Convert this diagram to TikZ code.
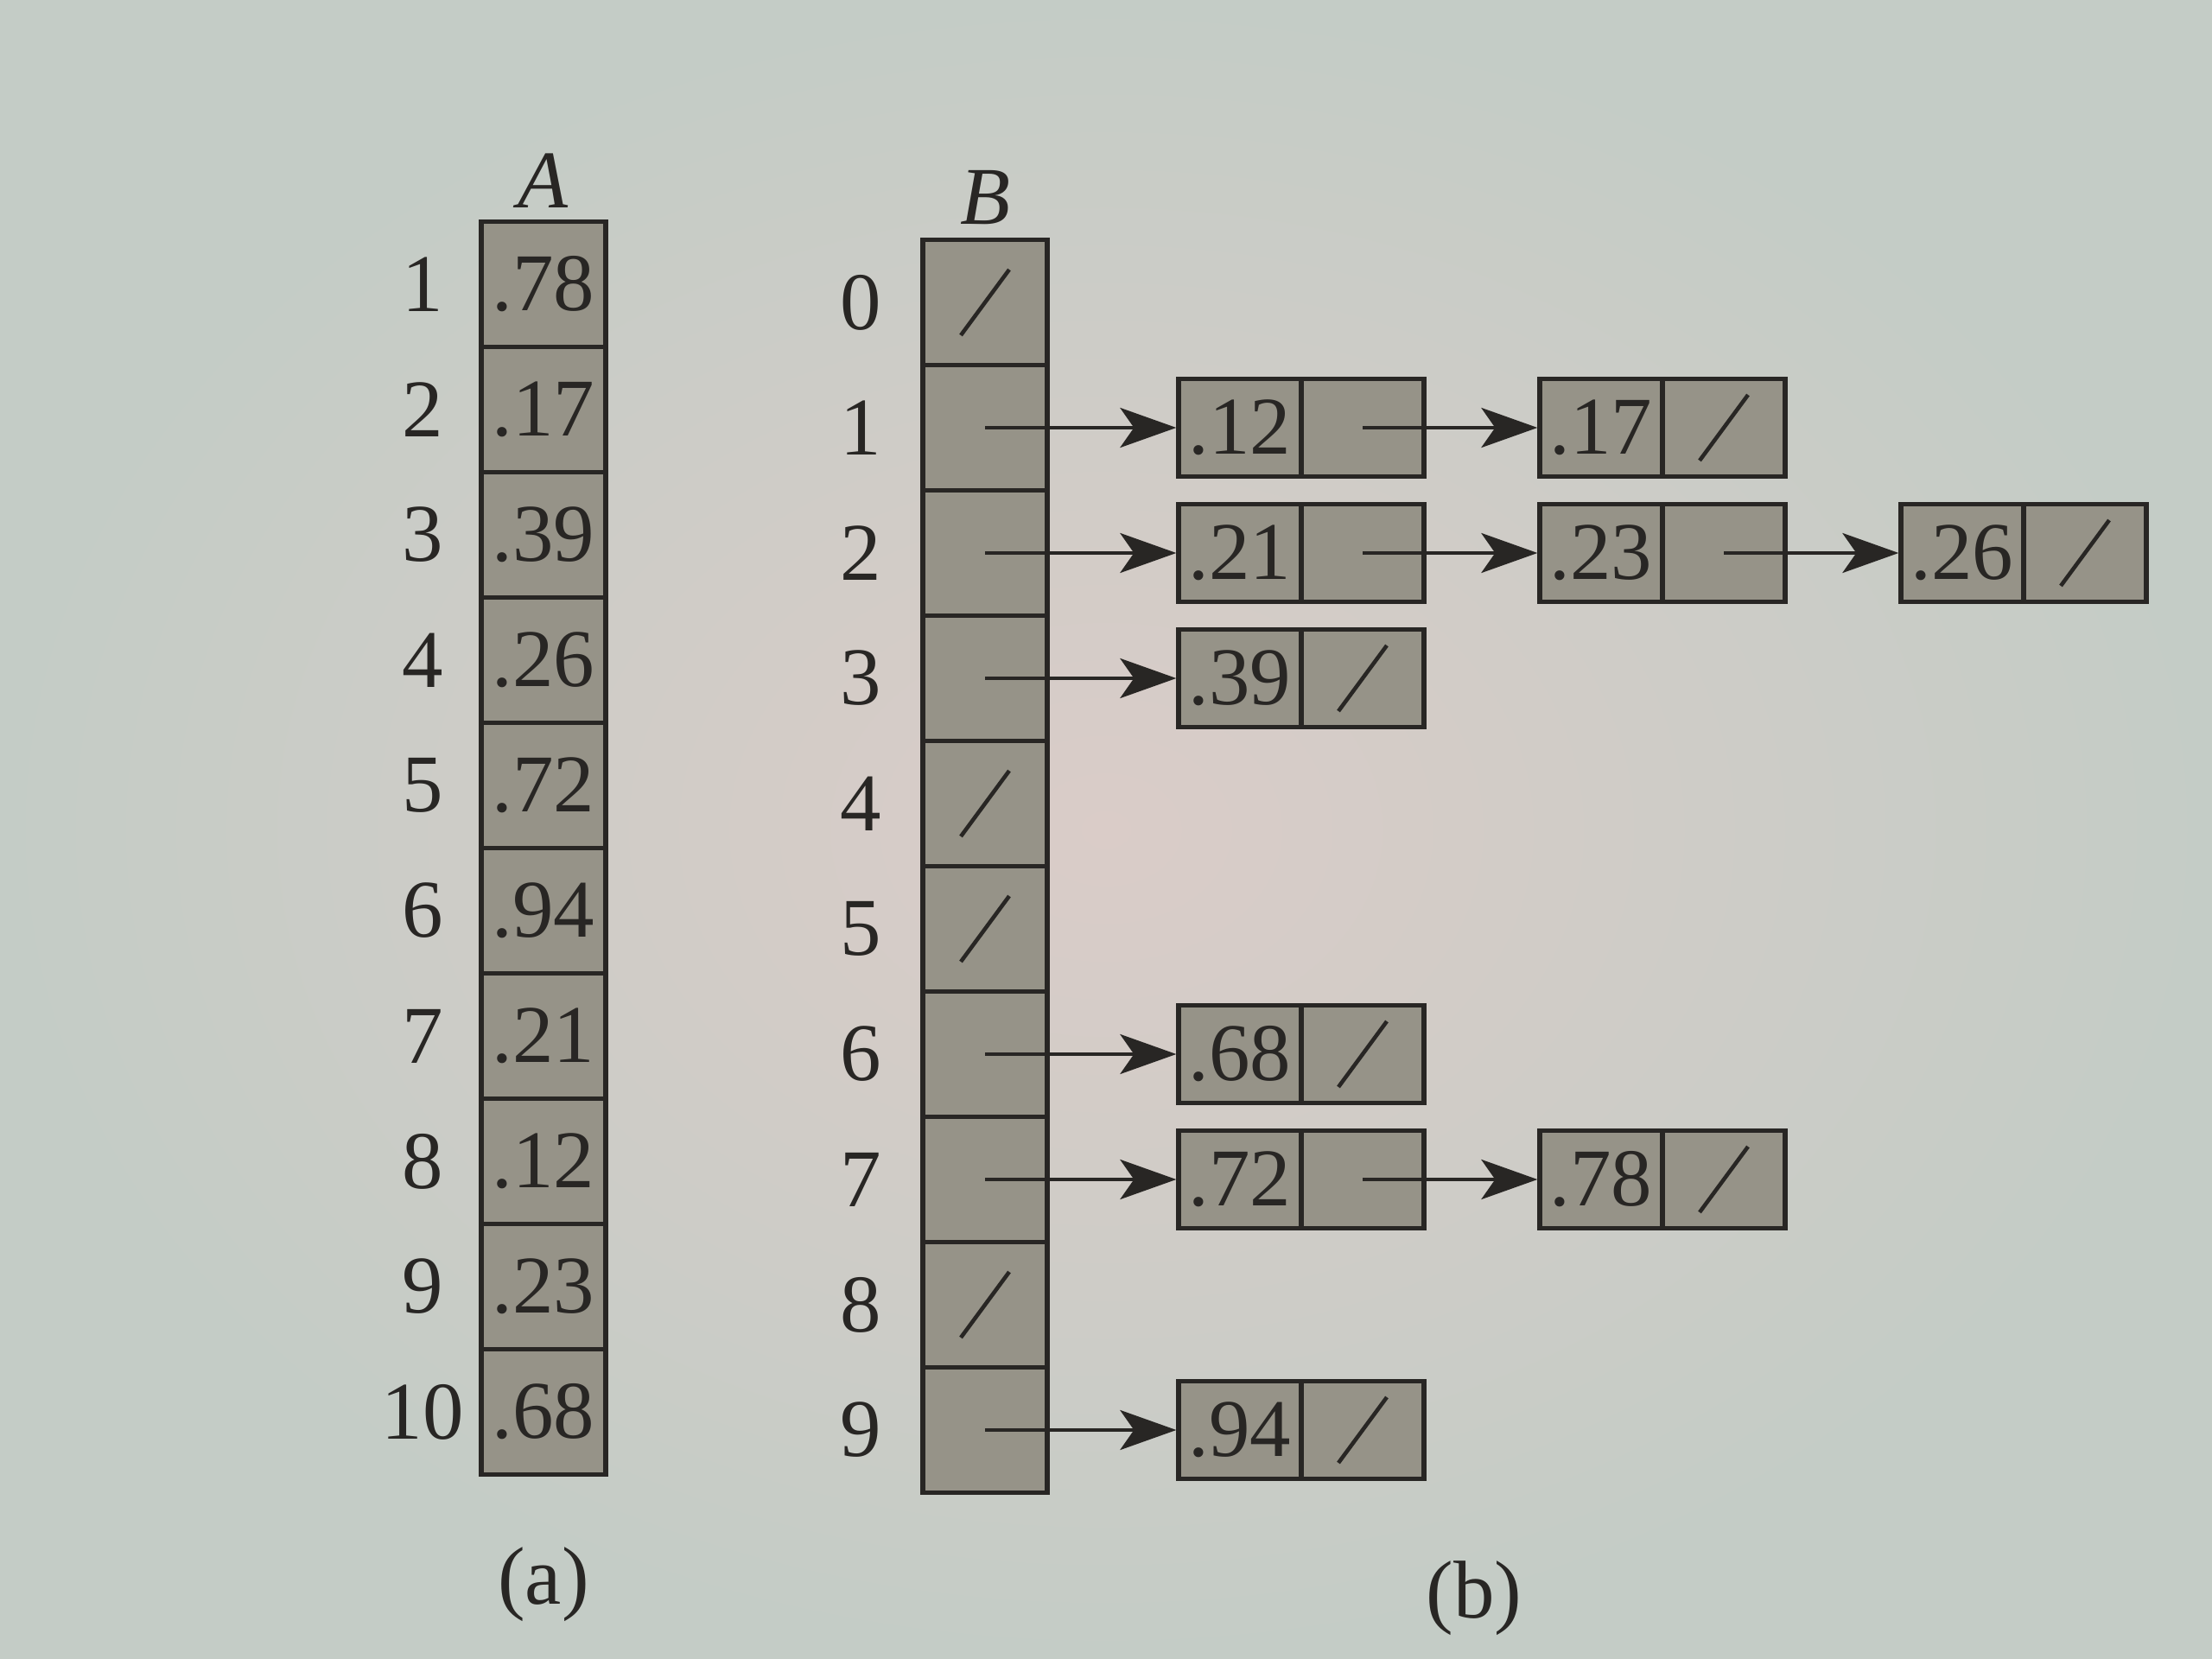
\documentclass[tikz,border=0pt]{standalone}
\usepackage{fontspec}
\setmainfont{Liberation Serif}
\usetikzlibrary{positioning, arrows.meta}

\definecolor{paperin}{RGB}{218,204,200}
\definecolor{paperout}{RGB}{196,204,198}
\definecolor{cellfill}{RGB}{150,147,136}
\definecolor{ink}{RGB}{40,38,36}

\tikzset{
  cell/.style={draw=ink, line width=1.5pt, fill=cellfill, minimum width=1.44cm, minimum height=1.45cm, inner sep=0pt, text=ink},
  key/.style={cell, minimum width=1.42cm, minimum height=1.13cm},
  nil/.style={path picture={\draw[ink, line width=1.3pt] ([shift={(-0.28,-0.38)}]path picture bounding box.center) -- ([shift={(0.28,0.38)}]path picture bounding box.center);}},
  ptr/.style={-{Stealth[length=6.5mm, width=4.6mm, inset=1.6mm]}, draw=ink, line width=1.2pt},
  idx/.style={text=ink}
}

\begin{document}
\begin{tikzpicture}[node distance=1.45cm, on grid, font=\fontsize{27}{27}\selectfont]
  % paper
  \fill[inner color=paperin, outer color=paperout] (0,0) rectangle (25.6,-19.2);

  % (a) input array A
  \node[cell] (a1) at (6.29,-3.29) {.78};
  \node[cell] (a2) [below=of a1] {.17};
  \node[cell] (a3) [below=of a2] {.39};
  \node[cell] (a4) [below=of a3] {.26};
  \node[cell] (a5) [below=of a4] {.72};
  \node[cell] (a6) [below=of a5] {.94};
  \node[cell] (a7) [below=of a6] {.21};
  \node[cell] (a8) [below=of a7] {.12};
  \node[cell] (a9) [below=of a8] {.23};
  \node[cell] (a10) [below=of a9] {.68};
  \node[idx] (A) [above=1.2cm of a1] {\textit{A}};
  \node[idx] (ia1) [left=1.4cm of a1] {1};
  \node[idx] (ia2) [left=1.4cm of a2] {2};
  \node[idx] (ia3) [left=1.4cm of a3] {3};
  \node[idx] (ia4) [left=1.4cm of a4] {4};
  \node[idx] (ia5) [left=1.4cm of a5] {5};
  \node[idx] (ia6) [left=1.4cm of a6] {6};
  \node[idx] (ia7) [left=1.4cm of a7] {7};
  \node[idx] (ia8) [left=1.4cm of a8] {8};
  \node[idx] (ia9) [left=1.4cm of a9] {9};
  \node[idx] (ia10) [left=1.4cm of a10] {10};
  \node[idx] (capa) [below=2.0cm of a10] {(a)};

  % (b) bucket array B
  \node[cell,nil] (b0) at (11.40,-3.50) {};
  \node[cell] (b1) [below=of b0] {};
  \node[cell] (b2) [below=of b1] {};
  \node[cell] (b3) [below=of b2] {};
  \node[cell,nil] (b4) [below=of b3] {};
  \node[cell,nil] (b5) [below=of b4] {};
  \node[cell] (b6) [below=of b5] {};
  \node[cell] (b7) [below=of b6] {};
  \node[cell,nil] (b8) [below=of b7] {};
  \node[cell] (b9) [below=of b8] {};
  \node[idx] (B) [above=1.21cm of b0] {\textit{B}};
  \node[idx] (ib0) [left=1.44cm of b0] {0};
  \node[idx] (ib1) [left=1.44cm of b1] {1};
  \node[idx] (ib2) [left=1.44cm of b2] {2};
  \node[idx] (ib3) [left=1.44cm of b3] {3};
  \node[idx] (ib4) [left=1.44cm of b4] {4};
  \node[idx] (ib5) [left=1.44cm of b5] {5};
  \node[idx] (ib6) [left=1.44cm of b6] {6};
  \node[idx] (ib7) [left=1.44cm of b7] {7};
  \node[idx] (ib8) [left=1.44cm of b8] {8};
  \node[idx] (ib9) [left=1.44cm of b9] {9};
  \node[idx] (capb) at (17.06,-18.5) {(b)};

  % lists
  \node[key] (k12) [right=2.95cm of b1] {.12};
  \node[key] (p12) [right=1.42cm of k12] {};
  \node[key] (k17) [right=4.18cm of k12] {.17};
  \node[key,nil] (p17) [right=1.42cm of k17] {};
  \node[key] (k21) [right=2.95cm of b2] {.21};
  \node[key] (p21) [right=1.42cm of k21] {};
  \node[key] (k23) [right=4.18cm of k21] {.23};
  \node[key] (p23) [right=1.42cm of k23] {};
  \node[key] (k26) [right=4.18cm of k23] {.26};
  \node[key,nil] (p26) [right=1.42cm of k26] {};
  \node[key] (k39) [right=2.95cm of b3] {.39};
  \node[key,nil] (p39) [right=1.42cm of k39] {};
  \node[key] (k68) [right=2.95cm of b6] {.68};
  \node[key,nil] (p68) [right=1.42cm of k68] {};
  \node[key] (k72) [right=2.95cm of b7] {.72};
  \node[key] (p72) [right=1.42cm of k72] {};
  \node[key] (k78) [right=4.18cm of k72] {.78};
  \node[key,nil] (p78) [right=1.42cm of k78] {};
  \node[key] (k94) [right=2.95cm of b9] {.94};
  \node[key,nil] (p94) [right=1.42cm of k94] {};

  \path[every edge/.append style={ptr}]
    (b1.center) edge (k12)
    (p12.center) edge (k17)
    (b2.center) edge (k21)
    (p21.center) edge (k23)
    (p23.center) edge (k26)
    (b3.center) edge (k39)
    (b6.center) edge (k68)
    (b7.center) edge (k72)
    (p72.center) edge (k78)
    (b9.center) edge (k94);
\end{tikzpicture}
\end{document}
